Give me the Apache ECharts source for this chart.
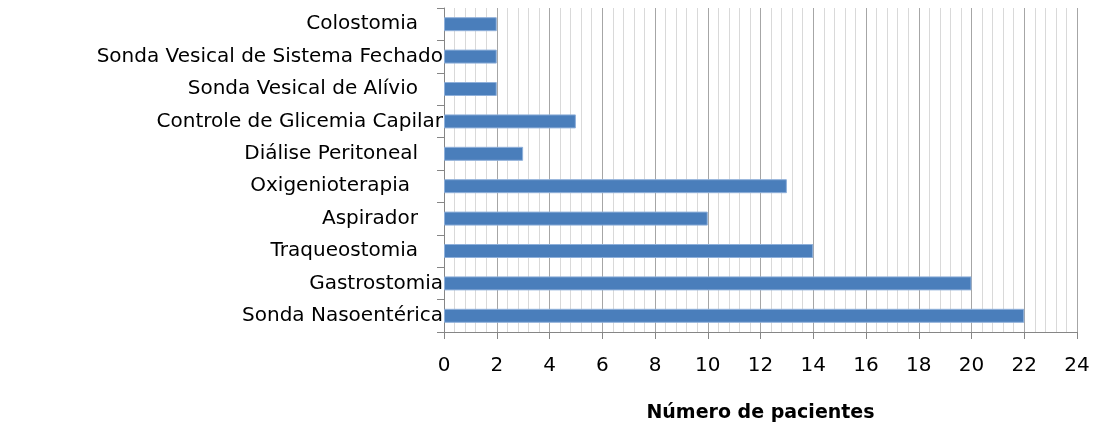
<!DOCTYPE html>
<html>
<head>
<meta charset="utf-8">
<script src="https://cdn.jsdelivr.net/npm/echarts@6/dist/echarts.min.js"></script>
<style>
  html, body { margin: 0; padding: 0; background: #fff; }
  #chart { width: 1095px; height: 430px; }
</style>
</head>
<body>
<div id="chart"></div>
<script>
// dados (de cima para baixo)
var categories = [
  'Colostomia',
  'Sonda Vesical de Sistema Fechado',
  'Sonda Vesical de Alívio',
  'Controle de Glicemia Capilar',
  'Diálise Peritoneal',
  'Oxigenioterapia',
  'Aspirador',
  'Traqueostomia',
  'Gastrostomia',
  'Sonda Nasoentérica'
];
var pacientes = [2, 2, 2, 5, 3, 13, 10, 14, 20, 22];
var xTicks = [0, 2, 4, 6, 8, 10, 12, 14, 16, 18, 20, 22, 24];
var xName = 'Número de pacientes';

// rótulos que no original ficam mais afastados do eixo
var afastados = {
  'Colostomia': 25,
  'Sonda Vesical de Alívio': 25,
  'Diálise Peritoneal': 25,
  'Oxigenioterapia': 33,
  'Aspirador': 25,
  'Traqueostomia': 25
};

var font = 'DejaVu Sans';
var chart = echarts.init(document.getElementById('chart'));

var rich = {};
Object.keys(afastados).forEach(function (k, i) {
  rich['p' + i] = {
    fontFamily: font,
    fontSize: 20,
    color: '#000',
    padding: [0, afastados[k], 0, 0]
  };
});

var option = {
  animation: false,
  grid: { left: 444, right: 18, top: 8, bottom: 98, containLabel: false },
  xAxis: {
    type: 'value',
    min: xTicks[0],
    max: xTicks[xTicks.length - 1],
    interval: 2,
    name: xName,
    nameLocation: 'middle',
    nameGap: 72,
    nameTextStyle: { fontFamily: font, fontSize: 19, fontWeight: 'bold', color: '#000' },
    axisLine: { show: true, lineStyle: { color: '#868686', width: 1 } },
    axisTick: { show: true, length: 7, lineStyle: { color: '#868686' } },
    axisLabel: { fontFamily: font, fontSize: 20, color: '#000', margin: 24 },
    splitLine: { show: true, lineStyle: { color: '#a6a6a6', width: 1 } },
    minorTick: { show: false, splitNumber: 5 },
    minorSplitLine: { show: true, lineStyle: { color: '#d9d9d9', width: 1 } }
  },
  yAxis: {
    type: 'category',
    data: categories,
    inverse: true,
    axisLine: { show: true, lineStyle: { color: '#868686', width: 1 } },
    axisTick: { show: true, length: 7, lineStyle: { color: '#868686' } },
    axisLabel: {
      fontFamily: font,
      fontSize: 20,
      color: '#000',
      margin: 1,
      rich: rich,
      formatter: function (v) {
        var keys = Object.keys(afastados);
        var i = keys.indexOf(v);
        return i >= 0 ? '{p' + i + '|' + v + '}' : v;
      }
    }
  },
  series: [{
    type: 'bar',
    data: pacientes,
    barWidth: 14,
    itemStyle: { color: '#4a7ebb', borderColor: '#8fb0da', borderWidth: 1 }
  }]
};
chart.setOption(option);
</script>
</body>
</html>
